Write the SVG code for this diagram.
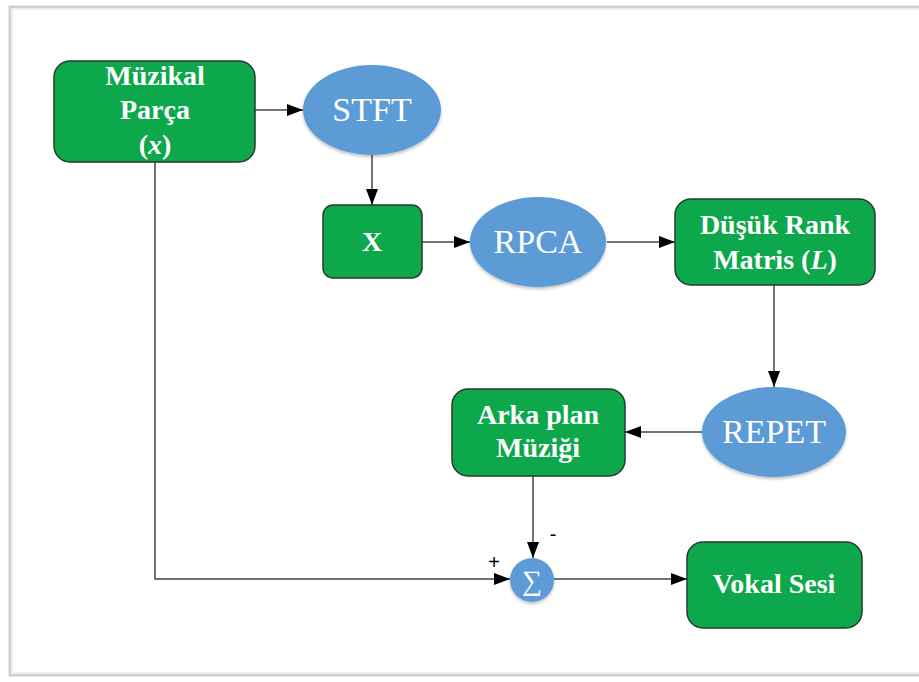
<svg xmlns="http://www.w3.org/2000/svg" width="919" height="682" viewBox="0 0 919 682">
<defs>
<marker id="arr" markerWidth="16" markerHeight="12" refX="16" refY="6" orient="auto" markerUnits="userSpaceOnUse">
<path d="M0,0 L16,6 L0,12 Z" fill="#000"/>
</marker>
<filter id="sh" x="-20%" y="-20%" width="140%" height="140%">
<feGaussianBlur in="SourceAlpha" stdDeviation="1.5"/>
<feOffset dx="0" dy="1.5"/>
<feComponentTransfer><feFuncA type="linear" slope="0.25"/></feComponentTransfer>
<feMerge><feMergeNode/><feMergeNode in="SourceGraphic"/></feMerge>
</filter>
</defs>
<style>
.box{fill:#0ea84c;stroke:#2b3a2b;stroke-width:1.5}
.ell{fill:#5b9bd5;filter:url(#sh)}
.con{fill:none;stroke:#444;stroke-width:1.5}
.sg{font-family:"Liberation Sans",Arial,sans-serif;font-size:20px;fill:#000;text-anchor:middle}
</style>
<rect x="0" y="0" width="919" height="682" fill="#fff"/>
<rect x="10" y="7" width="920" height="668" fill="#fff" stroke="#cfcfcf" stroke-width="3"/>
<rect x="12" y="9" width="920" height="664" fill="none" stroke="#eeeeee" stroke-width="2"/>

<g id="connectors">
<line class="con" x1="255" y1="110" x2="303" y2="110" marker-end="url(#arr)"/>
<line class="con" x1="372" y1="155" x2="372" y2="205" marker-end="url(#arr)"/>
<line class="con" x1="422" y1="242" x2="470" y2="242" marker-end="url(#arr)"/>
<line class="con" x1="607" y1="242" x2="675" y2="242" marker-end="url(#arr)"/>
<line class="con" x1="774" y1="285" x2="774" y2="387" marker-end="url(#arr)"/>
<line class="con" x1="702" y1="432" x2="625" y2="432" marker-end="url(#arr)"/>
<line class="con" x1="533" y1="476" x2="533" y2="558" marker-end="url(#arr)"/>
<polyline class="con" points="155,162 155,579 510,579" marker-end="url(#arr)"/>
<line class="con" x1="554" y1="579" x2="687" y2="579" marker-end="url(#arr)"/>
<text class="sg" x="494" y="569">+</text>
<text class="sg" x="553" y="541">-</text>
</g>

<g font-family="'Liberation Serif', serif" font-size="28" font-weight="bold" fill="#fff" text-anchor="middle">
<g id="muzikal">
<rect class="box" x="54" y="61" width="201" height="101" rx="16"/>
<text x="155" y="85">Müzikal</text>
<text x="155" y="119">Parça</text>
<text x="155" y="154">(<tspan font-style="italic">x</tspan>)</text>
</g>

<g id="x">
<rect class="box" x="323" y="205" width="99" height="73" rx="10"/>
<text x="372" y="251">X</text>
</g>

<g id="dusuk">
<rect class="box" x="675" y="199" width="200" height="86" rx="16"/>
<text x="775" y="234">Düşük Rank</text>
<text x="775" y="269">Matris (<tspan font-style="italic">L</tspan>)</text>
</g>

<g id="arka">
<rect class="box" x="452" y="389" width="173" height="87" rx="16"/>
<text x="538" y="424">Arka plan</text>
<text x="538" y="457">Müziği</text>
</g>

<g id="vokal">
<rect class="box" x="687" y="542" width="175" height="86" rx="16"/>
<text x="774" y="593">Vokal Sesi</text>
</g>
</g>

<g font-family="'Liberation Serif', serif" font-size="34" fill="#fff" text-anchor="middle">
<g id="stft">
<ellipse class="ell" cx="372" cy="110" rx="69" ry="45"/>
<text x="372" y="121">STFT</text>
</g>
<g id="rpca">
<ellipse class="ell" cx="538" cy="242" rx="68" ry="45"/>
<text x="538" y="253">RPCA</text>
</g>
<g id="repet">
<ellipse class="ell" cx="774" cy="432" rx="72" ry="45"/>
<text x="774" y="443">REPET</text>
</g>
<g id="sigma">
<circle class="ell" cx="532" cy="580" r="22"/>
<text x="532" y="590" font-size="28">∑</text>
</g>
</g>
</svg>
